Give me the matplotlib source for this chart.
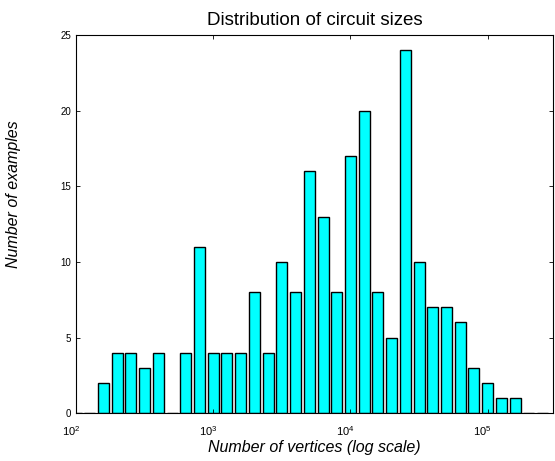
import numpy as np
import matplotlib.pyplot as plt
import matplotlib.transforms as mtransforms
from matplotlib.ticker import FixedLocator, NullLocator

# bin centres in log10(vertices), 0.1 decade wide
log_centres = [2.0, 2.1, 2.2, 2.3, 2.4, 2.5, 2.6, 2.7, 2.8, 2.9, 3.0, 3.1, 3.2, 3.3, 3.4, 3.5, 3.6,
               3.7, 3.8, 3.9, 4.0, 4.1, 4.2, 4.3, 4.4, 4.5, 4.6, 4.7, 4.8, 4.9, 5.0, 5.1, 5.2,
               5.3, 5.4]
counts = [0, 0, 2, 4, 4, 3, 4, 0, 4, 11, 4, 4, 4, 8, 4, 10, 8,
          16, 13, 8, 17, 20, 8, 5, 24, 10, 7, 7, 6, 3, 2, 1, 1,
          0, 0]
x_ticks = [1e2, 1e3, 1e4, 1e5]
x_ticklabels = ['$10^{2}$', '$10^{3}$', '$10^{4}$', '$10^{5}$']
y_ticks = [0, 5, 10, 15, 20, 25]

plt.rcParams['font.family'] = ['Liberation Sans', 'DejaVu Sans']
plt.rcParams['mathtext.fontset'] = 'custom'
plt.rcParams['mathtext.rm'] = 'Liberation Sans'

fig = plt.figure(figsize=(5.55, 4.61), dpi=100)
ax = fig.add_axes([0.137, 0.1035, 0.8594, 0.8206])

c = np.array(log_centres)
left = 10 ** (c - 0.04)
right = 10 ** (c + 0.04)
ax.bar(left, counts, width=right - left, align='edge', color='#00ffff',
       edgecolor='black', linewidth=1.0)

ax.set_xscale('log')
ax.set_xlim(1e2, 10 ** 5.476)
ax.set_ylim(0, 25)
ax.xaxis.set_major_locator(FixedLocator(x_ticks))
ax.xaxis.set_minor_locator(NullLocator())
ax.set_xticklabels(x_ticklabels)
ax.set_yticks(y_ticks)
ax.tick_params(direction='in', top=True, right=True, length=3, labelsize=7, width=0.6)
ax.tick_params(axis='x', pad=8, labelsize=8)

# MATLAB puts the "10" left of the tick, exponent over it
shift = mtransforms.ScaledTranslation(-5 / 100, 0, fig.dpi_scale_trans)
for lab in ax.get_xticklabels():
    lab.set_transform(lab.get_transform() + shift)

ax.set_title('Distribution of circuit sizes', fontsize=13.5, pad=7)
ax.set_xlabel('Number of vertices (log scale)', fontsize=11.5, style='italic', labelpad=1)
ax.set_ylabel('Number of examples', fontsize=11.5, style='italic')
ax.yaxis.set_label_coords(-0.115, 0.58)

fig.savefig('out.png', dpi=100)
